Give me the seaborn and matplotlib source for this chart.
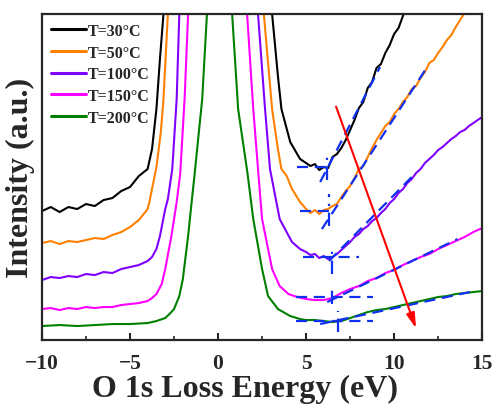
import numpy as np
import pandas as pd
import matplotlib
matplotlib.use("Agg")
import matplotlib.pyplot as plt
import seaborn as sns

# Spectra (intensity in arbitrary units, 0 = bottom of frame)
labels = ["T=30°C", "T=50°C", "T=100°C", "T=150°C", "T=200°C"]
colors = ["#000000", "#FF8000", "#8000FF", "#FF00FF", "#008000"]

x_30 = [-10, -9.5, -9, -8.5, -8, -7.5, -7, -6.5, -6, -5.5, -5, -4.5, -4, -3.75, -3.5, -3.3, -3.1, -2.9,
        2.9, 3.07, 3.4, 3.6, 4.1, 4.66,
        5.0, 5.25, 5.5, 5.75, 6.0, 6.25, 6.5, 6.75, 7.0, 7.25, 7.5, 7.75, 8.0, 8.25, 8.5, 8.75,
        9.0, 9.25, 9.5, 9.75, 10.0, 10.25, 10.5, 10.75, 11.0]
y_30 = [129, 133, 128, 133, 131, 136, 134, 140, 142, 149, 153, 164, 171, 191, 231, 281, 326, 420,
        420, 326, 264, 231, 198, 181,
        177, 174, 176, 170, 173, 172, 183, 186, 192, 200, 210, 220, 232, 238, 252, 258,
        272, 276, 287, 295, 306, 312, 324, 335, 345]

x_50 = [-10, -9.5, -9, -8.5, -8, -7.5, -7, -6.5, -6, -5.5, -5, -4.5, -4, -3.9, -3.5, -3.25, -3.1, -2.85, -2.6,
        2.4, 2.6, 3.07, 3.4, 3.6, 3.9, 4.2, 4.66,
        5.0, 5.25, 5.5, 5.75, 6.0, 6.25, 6.5, 6.75, 7.0, 7.25, 7.5, 7.75, 8.0, 8.25, 8.5, 8.75,
        9.0, 9.25, 9.5, 9.75, 10.0, 10.25, 10.5, 10.75, 11.0, 11.25, 11.5, 11.75, 12.0, 12.25,
        12.5, 12.75, 13.0, 13.25, 13.5, 13.75, 14.0, 14.25, 14.5]
y_50 = [97, 99, 96, 99, 98, 100, 102, 101, 105, 108, 113, 120, 131, 138, 173, 208, 241, 326, 420,
        420, 326, 231, 191, 171, 164, 151, 138,
        131, 127, 130, 126, 130, 131, 134, 136, 143, 149, 154, 162, 171, 174, 183, 192,
        200, 207, 214, 218, 226, 231, 238, 243, 251, 254, 262, 268, 277, 280,
        287, 293, 300, 305, 313, 320, 327, 335, 345]

x_100 = [-10, -9.5, -9, -8.5, -8, -7.5, -7, -6.5, -6, -5.5, -5, -4.5, -4, -3.75, -3.5, -3.3, -3.0, -2.85,
         -2.6, -2.35, -2.2, -2.0,
         2.0, 2.27, 2.67, 2.95, 3.5, 4.2, 4.66,
         5.0, 5.25, 5.5, 5.75, 6.0, 6.25, 6.5, 6.75, 7.0, 7.25, 7.5, 7.75, 8.0, 8.25, 8.5, 8.75,
         9.0, 9.25, 9.5, 9.75, 10.0, 10.25, 10.5, 10.75, 11.0, 11.25, 11.5, 11.75, 12.0, 12.25,
         12.5, 12.75, 13.0, 13.25, 13.5, 13.75, 14.0, 14.25, 14.5, 14.75, 15.0]
y_100 = [60, 63, 62, 64, 63, 66, 65, 68, 67, 71, 73, 75, 79, 83, 91, 104, 131, 141,
         171, 241, 326, 420,
         420, 326, 231, 171, 121, 98, 91,
         88, 85, 86, 82, 84, 81, 83, 86, 90, 94, 98, 103, 106, 111, 114, 119,
         122, 127, 131, 137, 141, 147, 151, 157, 161, 167, 171, 177, 181, 185,
         190, 193, 197, 201, 204, 208, 210, 214, 217, 220, 223]

x_150 = [-10, -9.5, -9, -8.5, -8, -7.5, -7, -6.5, -6, -5.5, -5, -4.5, -4, -3.75, -3.5, -3.2, -3.0,
         -2.65, -2.35, -2.15, -1.9, -1.7, -1.5,
         1.45, 1.65, 2.0, 2.27, 2.5, 3.07, 3.5, 4.0,
         4.5, 5.0, 5.5, 6.0, 6.5, 7.0, 7.5, 8.0, 8.5, 9.0, 9.5, 10.0, 10.5, 11.0, 11.5, 12.0,
         12.5, 13.0, 13.5, 14.0, 14.5, 15.0]
y_150 = [31, 32, 30, 32, 31, 33, 32, 33, 33, 35, 36, 37, 39, 42, 46, 56, 71,
         104, 138, 166, 241, 326, 420,
         420, 326, 231, 171, 121, 71, 54, 46,
         43, 41, 40, 40, 42, 47, 51, 54, 59, 62, 67, 70, 75, 79, 83, 86,
         91, 95, 99, 103, 108, 112]

x_200 = [-10, -9, -8, -7, -6, -5, -4, -3.5, -3.0, -2.7, -2.5, -2.2, -2.0, -1.7, -1.5, -1.36, -0.9, -0.63, -0.3,
         0.3, 0.8, 1.14, 1.67, 2.0, 2.5, 2.84, 3.4, 4.1, 4.66,
         5.0, 5.5, 6.0, 6.5, 7.0, 7.5, 8.0, 8.5, 9.0, 9.5, 10.0, 10.5, 11.0, 11.5, 12.0, 12.5,
         13.0, 13.5, 14.0, 14.5, 15.0]
y_200 = [14, 15, 14, 15, 16, 16, 17, 19, 22, 27, 31, 44, 61, 104, 138, 161, 241, 326, 500,
         500, 326, 231, 167, 121, 71, 44, 31, 24, 21,
         20, 20, 19, 18, 19, 22, 25, 28, 30, 31, 33, 35, 37, 39, 41, 43,
         44, 46, 47, 48, 49]

# blue construction lines (baseline, tangent, onset marker) per curve
base_y = [173, 129, 83, 43, 19]
base_x0 = [4.5, 4.66, 4.8, 4.4, 4.4]
base_x1 = [6.5, 6.5, 8.0, 8.8, 8.8]
tan_x0 = [5.8, 5.9, 6.3, 6.2, 5.8]
tan_y0 = [158, 111, 79, 38, 16]
tan_x1 = [9.2, 11.95, 11.0, 13.6, 14.3]
tan_y1 = [273, 275, 163, 101, 48]
onset_x = [6.2, 6.3, 6.5, 6.5, 6.8]
onset_y0 = [160, 114, 66, 36, 8]
onset_y1 = [184, 146, 93, 53, 29]

# red trend arrow
arrow_start = (6.65, 236)
arrow_end = (11.3, 9)

xs = [x_30, x_50, x_100, x_150, x_200]
ys = [y_30, y_50, y_100, y_150, y_200]

sns.set_style("ticks")
plt.rcParams['font.family'] = ['Liberation Serif', 'DejaVu Serif']
plt.rcParams['font.weight'] = 'bold'

fig = plt.figure(figsize=(4.94, 4.06), dpi=100)
ax = fig.add_axes([0.085, 0.16, 0.891, 0.803])

for x, y, lab, c in zip(xs, ys, labels, colors):
    df = pd.DataFrame({"E": x, "I": y})
    sns.lineplot(data=df, x="E", y="I", ax=ax, color=c, label=lab, lw=1.5,
                 estimator=None, sort=False)

blue = "#1030F0"
for i in range(5):
    ax.plot([base_x0[i], base_x1[i]], [base_y[i], base_y[i]], color=blue, lw=1.6,
            ls=(0, (5, 3)), zorder=5)
    ax.plot([tan_x0[i], tan_x1[i]], [tan_y0[i], tan_y1[i]], color=blue, lw=1.6,
            ls=(0, (5, 3)), zorder=5)
    ax.plot([onset_x[i], onset_x[i]], [onset_y0[i], onset_y1[i]], color=blue, lw=1.6,
            ls=(0, (6, 3, 1, 3)), zorder=5)

ax.annotate("", xy=arrow_end, xytext=arrow_start,
            arrowprops=dict(arrowstyle="-|>,head_length=0.9,head_width=0.25", color="red", lw=1.5),
            zorder=6)

ax.set_xlim(-10, 15)
ax.set_ylim(0, 326)
ax.set_xticks([-10, -5, 0, 5, 10, 15])
ax.set_xticks([-7.5, -2.5, 2.5, 7.5, 12.5], minor=True)
ax.set_yticks([])
ax.tick_params(axis="x", which="major", direction="in", length=5, width=1.5, labelsize=15.5, pad=9)
ax.tick_params(axis="x", which="minor", direction="in", length=3, width=1.2)
for lab in ax.get_xticklabels():
    lab.set_fontweight("bold")
for s in ax.spines.values():
    s.set_linewidth(1.6)
    s.set_visible(True)

ax.set_xlabel("O 1s Loss Energy (eV)", fontsize=23, fontweight="bold")
ax.xaxis.label.set_va("baseline")
ax.xaxis.set_label_coords(0.462, -0.172)
ax.set_ylabel("Intensity (a.u.)", fontsize=23, fontweight="bold", labelpad=5)

leg = ax.legend(loc="upper left", frameon=False, handlelength=2.2,
                handletextpad=0.15, labelspacing=0.36, borderaxespad=0.15,
                prop={"weight": "bold", "size": 11.5})
for h in leg.get_lines():
    h.set_linewidth(2.2)

fig.savefig("out.png", dpi=100)
